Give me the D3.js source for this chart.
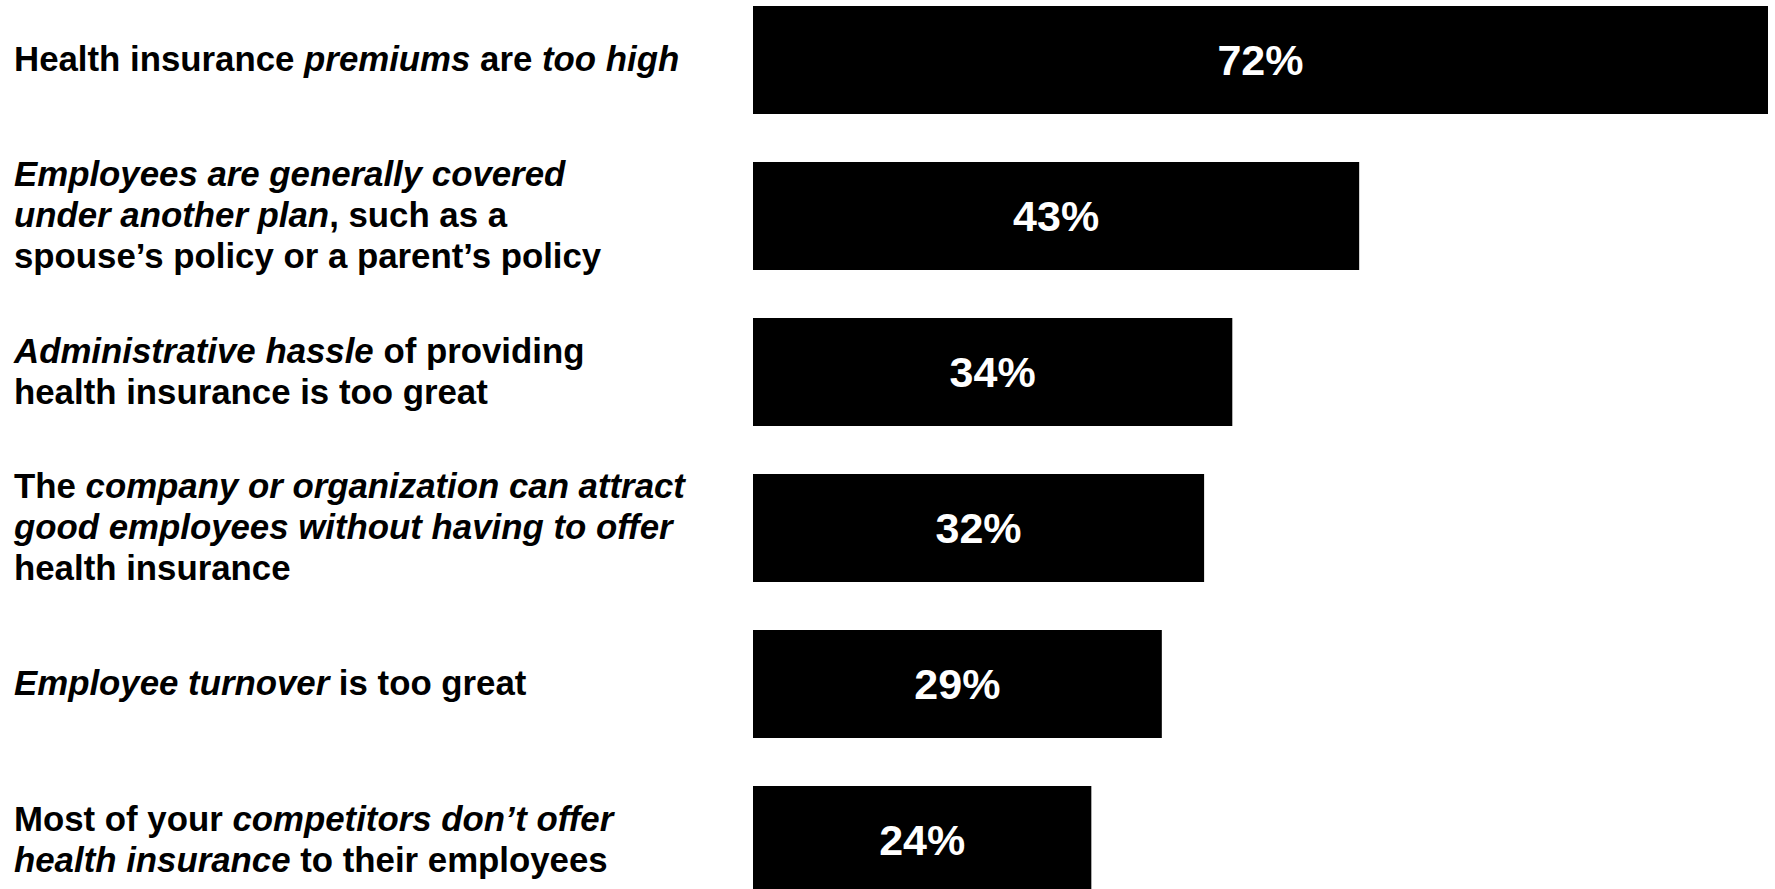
<!DOCTYPE html>
<html>
<head>
<meta charset="utf-8">
<script src="https://cdn.jsdelivr.net/npm/d3@7"></script>
<style>
  html, body { margin: 0; padding: 0; background: #fff; overflow: hidden; }
  svg { display: block; }
</style>
</head>
<body>
<svg id="chart" width="1775" height="889"></svg>
<script>
// Reasons for not offering health insurance (share of respondents).
// Category text: "|" breaks a line, *...* marks italic emphasis.
const categories = [
  "Health insurance *premiums* are *too high*",
  "*Employees are generally covered*|*under another plan*, such as a|spouse’s policy or a parent’s policy",
  "*Administrative hassle* of providing|health insurance is too great",
  "The *company or organization can attract*|*good employees without having to offer*|health insurance",
  "*Employee turnover* is too great",
  "Most of your *competitors don’t offer*|*health insurance* to their employees"
];
const values = [72, 43, 34, 32, 29, 24];
const valueLabels = ["72%", "43%", "34%", "32%", "29%", "24%"];

const svg = d3.select("#chart");
const font = "'Liberation Sans', Arial, Helvetica, sans-serif";

const x = d3.scaleLinear().domain([0, 72]).range([753, 1768]);
const y = d3.scaleBand()
  .domain(categories)
  .range([6, 894])
  .paddingInner(0.3077)
  .paddingOuter(0);

// Bars
svg.append("g").selectAll("rect")
  .data(values)
  .join("rect")
  .attr("x", x(0))
  .attr("y", (d, i) => y(categories[i]))
  .attr("width", d => x(d) - x(0))
  .attr("height", y.bandwidth())
  .attr("fill", "#000");

// Value labels centred in each bar
svg.append("g").selectAll("text")
  .data(values)
  .join("text")
  .attr("x", d => (x(0) + x(d)) / 2)
  .attr("y", (d, i) => y(categories[i]) + y.bandwidth() / 2)
  .attr("dy", "0.36em")
  .attr("text-anchor", "middle")
  .attr("font-family", font)
  .attr("font-weight", "bold")
  .attr("font-size", 43)
  .attr("fill", "#fff")
  .text((d, i) => valueLabels[i]);

// Category labels with mixed upright / italic runs
const lineHeight = 41;
const labelG = svg.append("g");
categories.forEach(cat => {
  const lines = cat.split("|");
  const cy = y(cat) + y.bandwidth() / 2;
  const t = labelG.append("text")
    .attr("font-family", font)
    .attr("font-weight", "bold")
    .attr("font-size", 34.8)
    .attr("fill", "#000");
  lines.forEach((line, li) => {
    const baseY = cy + (li - (lines.length - 1) / 2) * lineHeight;
    const parts = line.split("*");
    parts.forEach((p, pi) => {
      if (!p) return;
      const ts = t.append("tspan")
        .attr("font-style", pi % 2 === 1 ? "italic" : "normal")
        .text(p);
      if (pi === 0 || (pi === 1 && parts[0] === "")) {
        ts.attr("x", 14).attr("y", baseY).attr("dy", "0.33em");
      }
    });
  });
});
</script>
</body>
</html>
